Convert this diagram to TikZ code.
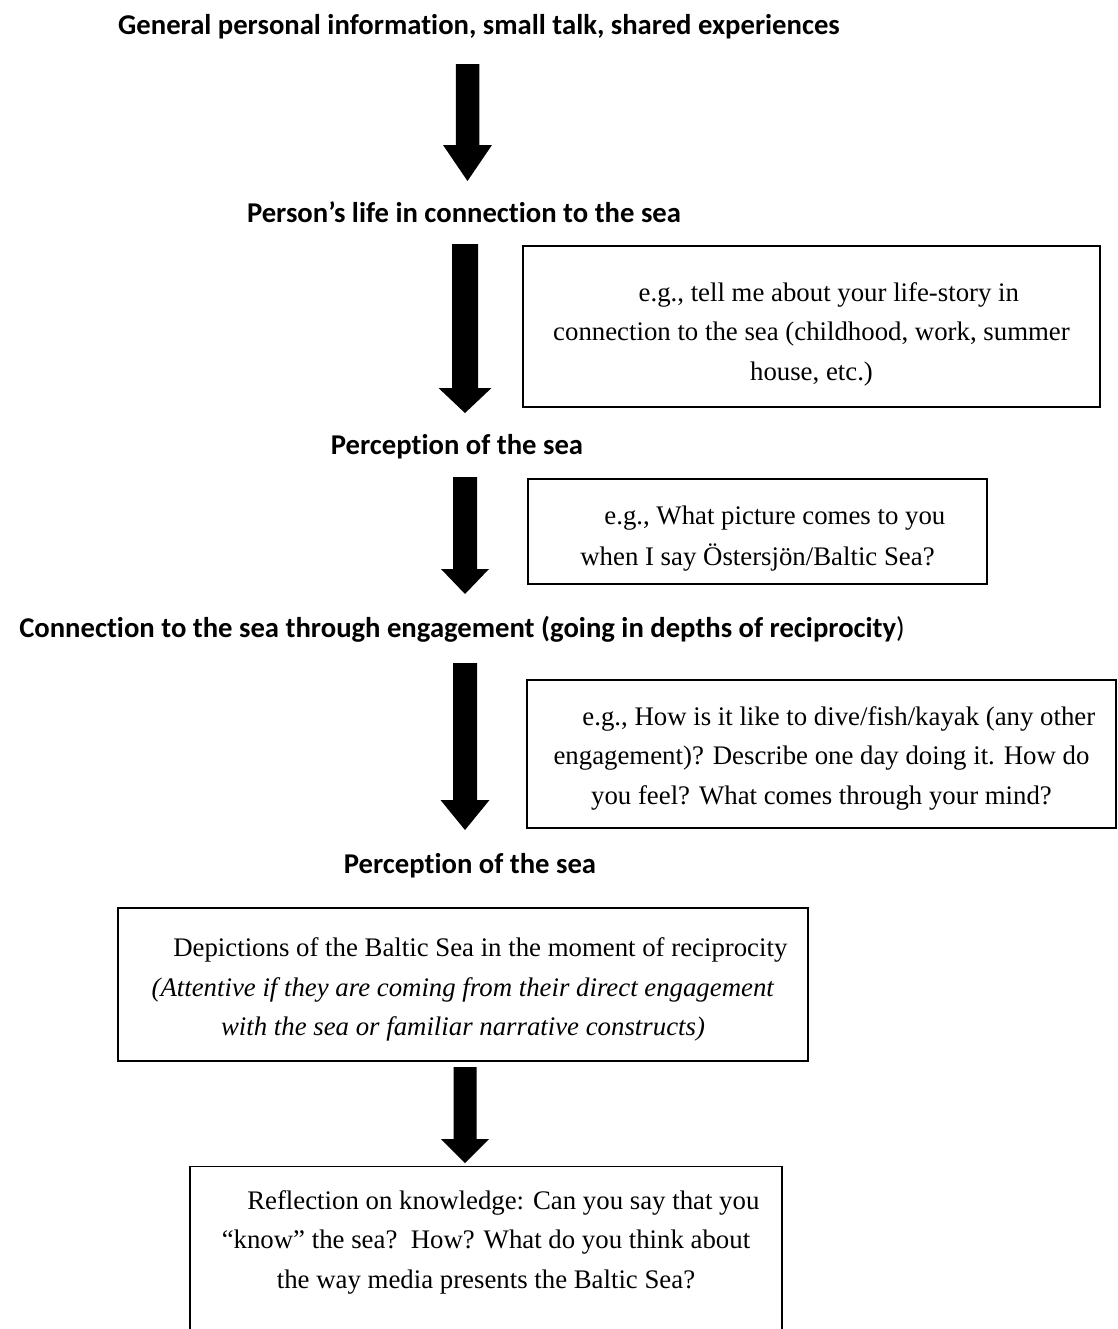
\documentclass[tikz,border=0pt]{standalone}
\usepackage{fontspec}
\setmainfont{Liberation Serif}
\newfontfamily\headfont[Ligatures=NoCommon]{Carlito}
\tikzset{
  heading/.style={font=\headfont\bfseries\fontsize{21.5}{25}\selectfont, inner sep=0pt},
  frameonly/.style={draw, line width=1.1pt, inner sep=0pt},
  textonly/.style={inner sep=0pt, align=center, font=\fontsize{20.1}{29.6}\selectfont},
  arrowfill/.style={fill=black}
}
\newcommand\bigarrow[7]{% x, half shaft, top, head start, half head, tip
  \fill[arrowfill] (#1-#2,#3) -- (#1+#2,#3) -- (#1+#2,#4) -- (#1+#5,#4) -- (#1,#6) -- (#1-#5,#4) -- (#1-#2,#4) -- cycle;}
\begin{document}
\begin{tikzpicture}[x=0.75pt,y=-0.75pt]
\useasboundingbox (0,0) rectangle (1118,1329);
\fill[white] (0,0) rectangle (1118,1329);
\clip (0,0) rectangle (1118,1329);

% headings
\node[heading] (h1) at (479,27) {General personal information, small talk, shared experiences};
\node[heading] (h2) at (464,212) {Person’s life in connection to the sea};
\node[heading] (h3) at (457,447) {Perception of the sea};
\node[heading] (h4) at (462,629) {Connection to the sea through engagement (going in depths of reciprocity{\mdseries)}};
\node[heading] (h5) at (470,866) {Perception of the sea};

% boxes
\node[frameonly, minimum width=432.75pt, minimum height=120.75pt] (b1) at (811.5,326.5) {};
\node[textonly] (b1t) at (811.5,334)
  {\hspace*{26pt}e.g., tell me about your life-story in\\ connection to the sea (childhood, work, summer\\ house, etc.)};
\node[frameonly, minimum width=344.25pt, minimum height=78.75pt] (b2) at (757.5,531.5) {};
\node[textonly] (b2t) at (757.5,538.5)
  {\hspace*{26pt}e.g., What picture comes to you\\[1.5pt] when I say Östersjön/Baltic Sea?};
\node[frameonly, minimum width=441.75pt, minimum height=111pt] (b3) at (821.5,754) {};
\node[textonly] (b3t) at (821.5,758.3)
  {\hspace*{26pt}e.g., How is it like to dive/fish/kayak (any other\\ engagement)? Describe one day doing it. How do\\ you feel? What comes through your mind?};
\node[frameonly, minimum width=517.5pt, minimum height=114.75pt] (b4) at (463,984.5) {};
\node[textonly] (b4t) at (463,989.5)
  {\hspace*{26pt}Depictions of the Baltic Sea in the moment of reciprocity\\ \textit{(Attentive if they are coming from their direct engagement}\\ \textit{with the sea or familiar narrative constructs)}};
\node[frameonly, minimum width=444pt, minimum height=200pt, anchor=north] (b5) at (486,1166) {};
\node[textonly] (b5t) at (486,1242)
  {\hspace*{26pt}Reflection on knowledge: Can you say that you\\ “know” the sea?\ \ How? What do you think about\\ the way media presents the Baltic Sea?};

% arrows
\bigarrow{467.5}{11.75}{64}{145}{24.5}{181}{}
\bigarrow{465}{13}{244}{388}{26.5}{413}{}
\bigarrow{465}{12}{477}{569}{24}{594}{}
\bigarrow{465}{12}{663}{800}{24.5}{830}{}
\bigarrow{465}{11.5}{1067}{1139}{24}{1163}{}
\end{tikzpicture}
\end{document}
